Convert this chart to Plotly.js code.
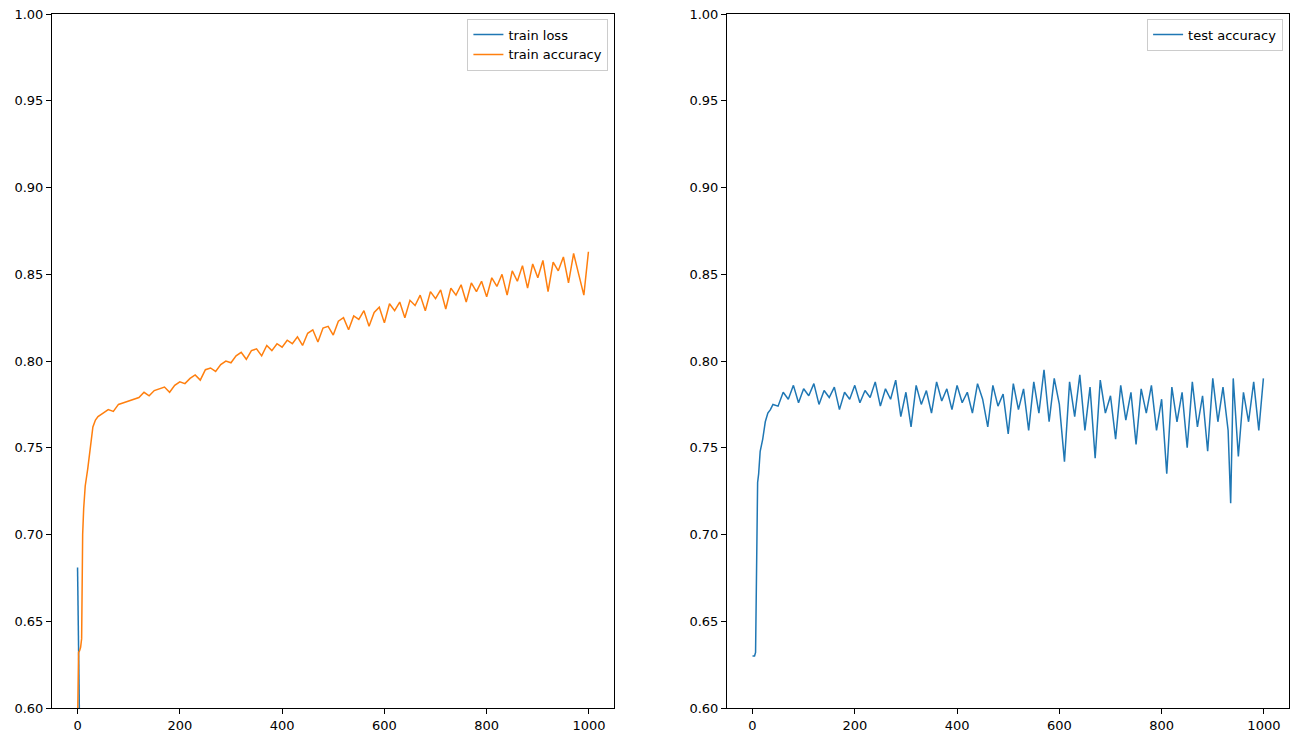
<!DOCTYPE html>
<html>
<head>
<meta charset="utf-8">
<script src="https://cdn.plot.ly/plotly-3.0.1.min.js"></script>
<style>body{margin:0;background:#fff}#chart{width:1300px;height:741px}</style>
</head>
<body>
<div id="chart"></div>
<script>
// values
const lossEpochs = [0, 1, 2, 3, 4, 5, 6, 10];
const trainLoss = [0.681, 0.662, 0.646, 0.63, 0.612, 0.592, 0.55, 0.45];

const earlyEpochs = [0, 2, 4, 6, 8, 10, 12, 15, 20, 25, 30, 35, 40];
const laterEpochs = [];
for (let e = 50; e <= 990; e += 10) laterEpochs.push(e);

const trainAccEpochs = earlyEpochs.concat(laterEpochs, [999]);
const trainAccuracy = [
  0.59, 0.632, 0.633, 0.635, 0.64, 0.70, 0.715, 0.728, 0.738, 0.752, 0.762, 0.766, 0.768,
  0.770, 0.772, 0.771, 0.775, 0.776, 0.777, 0.778, 0.779, 0.782, 0.780,
  0.783, 0.784, 0.785, 0.782, 0.786, 0.788, 0.787, 0.790, 0.792, 0.789,
  0.795, 0.796, 0.794, 0.798, 0.800, 0.799, 0.803, 0.805, 0.801, 0.806,
  0.807, 0.803, 0.809, 0.806, 0.810, 0.808, 0.812, 0.810, 0.814, 0.809,
  0.816, 0.818, 0.811, 0.819, 0.820, 0.815, 0.823, 0.825, 0.818, 0.826,
  0.824, 0.829, 0.820, 0.828, 0.831, 0.822, 0.833, 0.829, 0.834, 0.825,
  0.835, 0.832, 0.838, 0.829, 0.840, 0.836, 0.841, 0.830, 0.842, 0.838,
  0.844, 0.834, 0.845, 0.840, 0.846, 0.837, 0.848, 0.843, 0.850, 0.838,
  0.852, 0.846, 0.855, 0.842, 0.856, 0.848, 0.858, 0.840, 0.857, 0.852,
  0.860, 0.845, 0.862, 0.850, 0.838, 0.863
];

const testEpochs = earlyEpochs.concat(
  laterEpochs.slice(0, 89), [935], laterEpochs.slice(89), [999]);
const testAccuracy = [
  0.630, 0.630, 0.630, 0.632, 0.700, 0.730, 0.735, 0.748, 0.755, 0.765, 0.770, 0.772, 0.775,
  0.774, 0.782, 0.778, 0.786, 0.776, 0.784, 0.780, 0.787, 0.775, 0.783,
  0.779, 0.785, 0.772, 0.782, 0.778, 0.786, 0.776, 0.783, 0.779, 0.788,
  0.774, 0.784, 0.778, 0.789, 0.768, 0.782, 0.762, 0.786, 0.775, 0.783,
  0.770, 0.788, 0.777, 0.784, 0.772, 0.786, 0.776, 0.782, 0.770, 0.787,
  0.778, 0.762, 0.786, 0.774, 0.781, 0.758, 0.787, 0.772, 0.784, 0.760,
  0.788, 0.770, 0.795, 0.765, 0.790, 0.775, 0.742, 0.788, 0.768, 0.792,
  0.760, 0.785, 0.744, 0.789, 0.770, 0.780, 0.755, 0.786, 0.766, 0.782,
  0.752, 0.784, 0.770, 0.786, 0.760, 0.778, 0.735, 0.785, 0.765, 0.782,
  0.750, 0.788, 0.762, 0.780, 0.748, 0.790, 0.765, 0.785, 0.760, 0.718,
  0.790, 0.745, 0.782, 0.765, 0.788, 0.760, 0.790
];

const blue = '#1f77b4', orange = '#ff7f0e';
const font = {family: 'DejaVu Sans', size: 13, color: '#000'};

const xAxis = (domain, anchor) => ({
  domain, anchor, range: [-49.95, 1048.95], dtick: 200, tick0: 0,
  showgrid: false, zeroline: false, showline: true, mirror: true,
  linecolor: '#000', linewidth: 1, ticks: 'outside', ticklen: 5, tickcolor: '#000'
});
const yAxis = (anchor) => ({
  domain: [0.0445, 0.981], anchor, range: [0.6, 1.0], dtick: 0.05, tickformat: '.2f',
  showgrid: false, zeroline: false, showline: true, mirror: true,
  linecolor: '#000', linewidth: 1, ticks: 'outside', ticklen: 5, tickcolor: '#000'
});
const legendBox = (x) => ({
  x, y: 0.975, xanchor: 'right', yanchor: 'top', xref: 'paper', yref: 'paper',
  bgcolor: 'rgba(255,255,255,0.8)', bordercolor: '#ccc', borderwidth: 1, font
});

Plotly.newPlot('chart', [
  {x: lossEpochs, y: trainLoss, name: 'train loss', mode: 'lines',
   line: {color: blue, width: 1.5}, xaxis: 'x', yaxis: 'y', legend: 'legend'},
  {x: trainAccEpochs, y: trainAccuracy, name: 'train accuracy', mode: 'lines',
   line: {color: orange, width: 1.5}, xaxis: 'x', yaxis: 'y', legend: 'legend'},
  {x: testEpochs, y: testAccuracy, name: 'test accuracy', mode: 'lines',
   line: {color: blue, width: 1.5}, xaxis: 'x2', yaxis: 'y2', legend: 'legend2'},
], {
  width: 1300, height: 741, margin: {l: 0, r: 0, t: 0, b: 0},
  paper_bgcolor: '#fff', plot_bgcolor: '#fff', font,
  showlegend: true,
  xaxis: xAxis([0.04, 0.4723], 'y'),
  yaxis: yAxis('x'),
  xaxis2: xAxis([0.5592, 0.9915], 'y2'),
  yaxis2: yAxis('x2'),
  legend: legendBox(0.468),
  legend2: legendBox(0.987),
}, {displayModeBar: false, staticPlot: true});
</script>
</body>
</html>
